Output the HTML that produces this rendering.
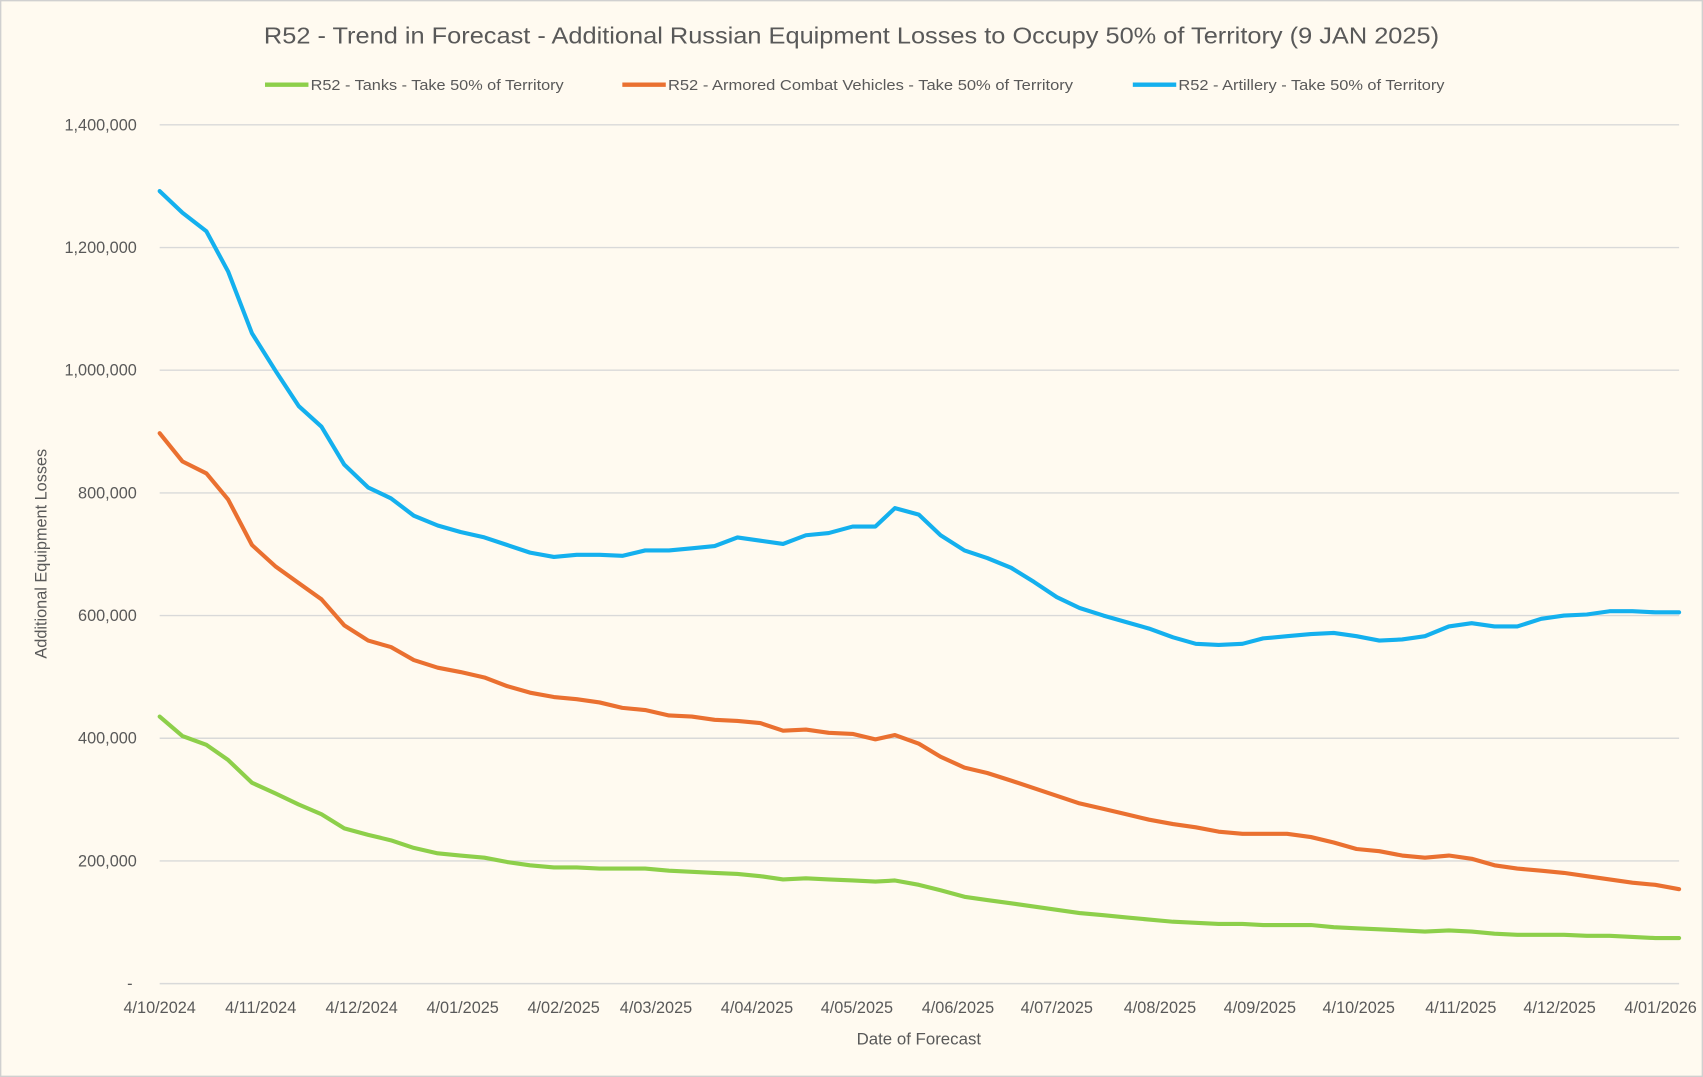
<!DOCTYPE html>
<html><head><meta charset="utf-8"><style>
html,body{margin:0;padding:0;background:#fffaf0}
svg{display:block}
text{font-family:"Liberation Sans",sans-serif;fill:#595959}
</style></head><body>
<svg width="1703" height="1077" viewBox="0 0 1568 992" preserveAspectRatio="none">
<rect x="0.5" y="0.5" width="1567" height="991" fill="#fffaf0" stroke="#d0d0d0" stroke-width="1.5"/>
<text x="243" y="40" font-size="21" textLength="1082" lengthAdjust="spacingAndGlyphs">R52 - Trend in Forecast - Additional Russian Equipment Losses to Occupy 50% of Territory (9 JAN 2025)</text>
<g font-size="14">
<line x1="244" y1="78" x2="284" y2="78" stroke="#8dcf4a" stroke-width="4"/><text x="286" y="83" textLength="233" lengthAdjust="spacingAndGlyphs">R52 - Tanks - Take 50% of Territory</text>
<line x1="573" y1="78" x2="613" y2="78" stroke="#ea7030" stroke-width="4"/><text x="615" y="83" textLength="373" lengthAdjust="spacingAndGlyphs">R52 - Armored Combat Vehicles - Take 50% of Territory</text>
<line x1="1043" y1="78" x2="1083" y2="78" stroke="#14b0ee" stroke-width="4"/><text x="1085" y="83" textLength="245" lengthAdjust="spacingAndGlyphs">R52 - Artillery - Take 50% of Territory</text>
</g>
<g stroke="#d9d9d9" stroke-width="1.3">
<line x1="147" x2="1546" y1="115" y2="115"/><line x1="147" x2="1546" y1="228" y2="228"/><line x1="147" x2="1546" y1="341" y2="341"/><line x1="147" x2="1546" y1="454" y2="454"/><line x1="147" x2="1546" y1="567" y2="567"/><line x1="147" x2="1546" y1="680" y2="680"/><line x1="147" x2="1546" y1="793" y2="793"/><line x1="147" x2="1546" y1="906" y2="906"/>
</g>
<g font-size="15" text-anchor="end">
<text x="126" y="120">1,400,000</text><text x="126" y="233">1,200,000</text><text x="126" y="346">1,000,000</text><text x="126" y="459">800,000</text><text x="126" y="572">600,000</text><text x="126" y="685">400,000</text><text x="126" y="798">200,000</text><text x="122" y="911">-</text>
</g>
<g font-size="15" text-anchor="middle">
<text x="147" y="933">4/10/2024</text><text x="240" y="933">4/11/2024</text><text x="333" y="933">4/12/2024</text><text x="426" y="933">4/01/2025</text><text x="519" y="933">4/02/2025</text><text x="604" y="933">4/03/2025</text><text x="697" y="933">4/04/2025</text><text x="789" y="933">4/05/2025</text><text x="882" y="933">4/06/2025</text><text x="973" y="933">4/07/2025</text><text x="1068" y="933">4/08/2025</text><text x="1160" y="933">4/09/2025</text><text x="1251" y="933">4/10/2025</text><text x="1345" y="933">4/11/2025</text><text x="1436" y="933">4/12/2025</text><text x="1529" y="933">4/01/2026</text>
</g>
<text x="846" y="962" font-size="15.5" text-anchor="middle">Date of Forecast</text>
<text transform="translate(43,510) rotate(-90)" font-size="15" text-anchor="middle">Additional Equipment Losses</text>
<g fill="none" stroke-width="3.8" stroke-linejoin="round" stroke-linecap="round">
<polyline stroke="#14b0ee" points="147,176 168,196 190,213 210,250 232,307 254,342 275,374 296,393 317,428 339,449 360,459 381,475 403,484 424,490 446,495 467,502 488,509 510,513 531,511 552,511 573,512 594,507 616,507 637,505 658,503 679,495 700,498 721,501 742,493 763,491 785,485 806,485 824,468 846,474 866,493 888,507 909,514 931,523 952,536 973,550 994,560 1016,567 1037,573 1058,579 1080,587 1101,593 1122,594 1144,593 1163,588 1185,586 1207,584 1228,583 1249,586 1270,590 1291,589 1312,586 1334,577 1355,574 1376,577 1397,577 1419,570 1440,567 1461,566 1482,563 1503,563 1524,564 1546,564"/>
<polyline stroke="#ea7030" points="147,399 168,425 190,436 210,460 232,502 254,522 275,537 296,552 317,576 339,590 360,596 381,608 403,615 424,619 446,624 467,632 488,638 510,642 531,644 552,647 573,652 594,654 616,659 637,660 658,663 679,664 700,666 721,673 742,672 763,675 785,676 806,681 824,677 846,685 866,697 888,707 909,712 931,719 952,726 973,733 994,740 1016,745 1037,750 1058,755 1080,759 1101,762 1122,766 1144,768 1163,768 1185,768 1207,771 1228,776 1249,782 1270,784 1291,788 1312,790 1334,788 1355,791 1376,797 1397,800 1419,802 1440,804 1461,807 1482,810 1503,813 1524,815 1546,819"/>
<polyline stroke="#8dcf4a" points="147,660 168,678 190,686 210,700 232,721 254,731 275,741 296,750 317,763 339,769 360,774 381,781 403,786 424,788 446,790 467,794 488,797 510,799 531,799 552,800 573,800 594,800 616,802 637,803 658,804 679,805 700,807 721,810 742,809 763,810 785,811 806,812 824,811 846,815 866,820 888,826 909,829 931,832 952,835 973,838 994,841 1016,843 1037,845 1058,847 1080,849 1101,850 1122,851 1144,851 1163,852 1185,852 1207,852 1228,854 1249,855 1270,856 1291,857 1312,858 1334,857 1355,858 1376,860 1397,861 1419,861 1440,861 1461,862 1482,862 1503,863 1524,864 1546,864"/>
</g>
</svg>
</body></html>
